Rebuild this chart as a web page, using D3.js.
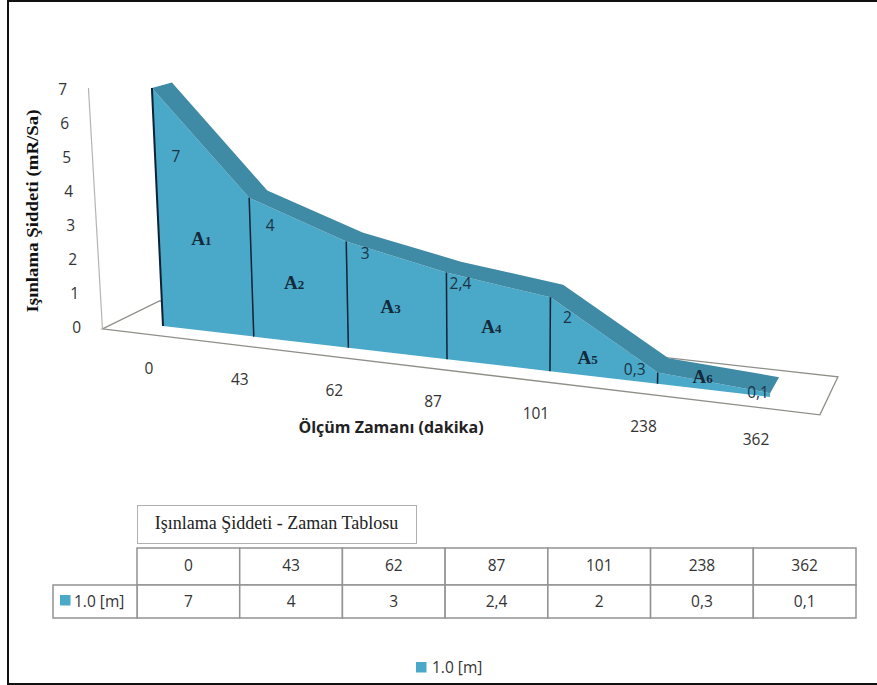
<!DOCTYPE html>
<html>
<head>
<meta charset="utf-8">
<script src="https://cdn.jsdelivr.net/npm/d3@7"></script>
<style>
  html, body { margin: 0; padding: 0; background: #fff; }
  svg { display: block; }
</style>
</head>
<body>
<div id="chart"></div>
<script>
let categories = ["0", "43", "62", "87", "101", "238", "362"]
let values = [7, 4, 3, 2.4, 2, 0.3, 0.1]
let valueLabels = ["7", "4", "3", "2,4", "2", "0,3", "0,1"]
let yTicks = [0, 1, 2, 3, 4, 5, 6, 7]
let areaNames = ["1", "2", "3", "4", "5", "6"]
let seriesName = "1.0 [m]"

// hand nudges for the data labels, relative to the front top of each point
let labelDx = [24, 21, 19, 14, 17, -23, -12]
let labelDy = [68, 28, 12, 11, 20, -3, -1]

let width = 877, height = 685
let frontColor = "#4aa8c8", ribbonColor = "#3f8ba6", textColor = "#333"
let sansFont = "'Open Sans', sans-serif", serifFont = "'Liberation Serif', serif"
let labelSize = 15.5

let svg = d3.select("#chart").append("svg")
    .attr("width", width)
    .attr("height", height)

// Outer border, the right side runs off the picture
svg.append("rect")
    .attr("x", 8).attr("y", 1)
    .attr("width", 880).attr("height", 683)
    .attr("fill", "#fff")
    .attr("stroke", "#111")
    .attr("stroke-width", 2)

// Perspective helpers: category position runs along a receding baseline
let persp = function (i) { return 1 / (1 - 0.0201 * i) }
let baseX = function (i) { return 163 + 88.96 * i * persp(i) }
let baseY = d3.scaleLinear().domain([163, 770]).range([326, 397])
let unit = function (i) { return 34 * persp(i) }
let lean = function (x) { return (x - 500) * 0.0047 }
let depthX = d3.scaleLinear().domain([0, 6]).range([20, 9])
let depthY = d3.scaleLinear().domain([0, 6]).range([-5.5, -16])

function pt(i, v) {
    let x = baseX(i), y = baseY(x)
    return [x + lean(x) * v, y - unit(i) * v]
}

let points = values.map(function (v, i) {
    let p = pt(i, v), b = pt(i, 0)
    return {i: i, v: v, x: p[0], y: p[1], bx: b[0], by: b[1],
        backX: p[0] + depthX(i), backY: p[1] + depthY(i)}
})

// Floor of the 3D box
let floorLeft = -0.69, floorRight = 6.43
function floorFront(i) { let x = baseX(i); return [x, baseY(x) + (i < 3 ? 10 : 12)] }
let fl = floorFront(floorLeft), fr = floorFront(floorRight)
let floorPath = [fl, fr, [fr[0] + 18, fr[1] - 38], [fl[0] + 57, fl[1] - 28]]
svg.append("path")
    .attr("d", d3.line()(floorPath) + "Z")
    .attr("fill", "none")
    .attr("stroke", "#8f8f88")
    .attr("stroke-width", 1.3)

// Y axis wall line and labels
let yAxisLine = d3.scaleLinear().domain([0, 7]).range([329, 88])
svg.append("line")
    .attr("x1", fl[0]).attr("y1", yAxisLine(0))
    .attr("x2", fl[0] - 14).attr("y2", yAxisLine(7))
    .attr("stroke", "#b5b5b0")
    .attr("stroke-width", 1.2)

let yS = d3.scaleLinear().domain([0, 7]).range([328, 90])
let yAxis = svg.append("g")
    .attr("transform", "translate(84,0)")
    .call(d3.axisLeft(yS).tickValues(yTicks).tickSize(0).tickFormat(d3.format("d")))
yAxis.select(".domain").remove()
yAxis.selectAll(".tick")
    .attr("transform", function (d) { return "translate(" + (-2 * d) + "," + yS(d) + ")" })
yAxis.selectAll("text")
    .attr("font-family", sansFont)
    .attr("font-size", labelSize)
    .attr("fill", textColor)

// Front face
let frontArea = d3.area()
    .x0(function (d) { return d.bx })
    .y0(function (d) { return d.by })
    .x1(function (d) { return d.x })
    .y1(function (d) { return d.y })
svg.append("path")
    .datum(points)
    .attr("d", frontArea)
    .attr("fill", frontColor)

// Top ribbon
let ribbon = d3.area()
    .x0(function (d) { return d.x })
    .y0(function (d) { return d.y })
    .x1(function (d) { return d.backX })
    .y1(function (d) { return d.backY })
svg.append("path")
    .datum(points)
    .attr("d", ribbon)
    .attr("fill", ribbonColor)

// Segment dividers
svg.selectAll(".divider")
    .data(points.slice(0, 6))
    .enter()
    .append("line")
    .attr("class", "divider")
    .attr("x1", function (d) { return d.bx })
    .attr("y1", function (d) { return d.by })
    .attr("x2", function (d) { return d.x })
    .attr("y2", function (d) { return d.y })
    .attr("stroke", "#0f2236")
    .attr("stroke-width", function (d, i) { return i == 0 ? 2 : 1.5 })

// Value labels on the points
svg.selectAll(".value")
    .data(points)
    .enter()
    .append("text")
    .attr("class", "value")
    .attr("x", function (d, i) { return d.x + labelDx[i] })
    .attr("y", function (d, i) { return d.y + labelDy[i] + 5.5 })
    .attr("text-anchor", "middle")
    .attr("font-family", sansFont)
    .attr("font-size", labelSize)
    .attr("fill", "#1d3344")
    .text(function (d, i) { return valueLabels[i] })

// Area names A1..A6 in the middle of each segment
let areaLabels = svg.selectAll(".area-name")
    .data(areaNames)
    .enter()
    .append("text")
    .attr("class", "area-name")
    .attr("x", function (d, i) {
        let shift = i == 4 ? -16 : (i == 5 ? -11 : -7)
        return (points[i].bx + points[i + 1].bx) / 2 + shift
    })
    .attr("y", function (d, i) {
        let mid = (points[i].y + points[i + 1].y + points[i].by + points[i + 1].by) / 4
        return mid + (i == 5 ? -4 : 8)
    })
    .attr("text-anchor", "middle")
    .attr("font-family", serifFont)
    .attr("font-weight", "bold")
    .attr("fill", "#14293a")
areaLabels.append("tspan").attr("font-size", 19).text("A")
areaLabels.append("tspan").attr("font-size", 13).text(function (d) { return d })

// X axis labels follow the baseline
svg.selectAll(".xlabel")
    .data(points)
    .enter()
    .append("text")
    .attr("class", "xlabel")
    .attr("x", function (d) { return d.bx - 14 })
    .attr("y", function (d) { return d.by + 48 })
    .attr("text-anchor", "middle")
    .attr("font-family", sansFont)
    .attr("font-size", labelSize)
    .attr("fill", textColor)
    .text(function (d, i) { return categories[i] })

// Axis titles
svg.append("text")
    .attr("x", 391).attr("y", 433)
    .attr("text-anchor", "middle")
    .attr("font-family", sansFont)
    .attr("font-weight", "bold")
    .attr("font-size", 16)
    .attr("fill", "#222")
    .text("Ölçüm Zamanı (dakika)")

svg.append("text")
    .attr("transform", "translate(38,211) rotate(-90)")
    .attr("text-anchor", "middle")
    .attr("font-family", serifFont)
    .attr("font-weight", "bold")
    .attr("font-size", 16)
    .attr("textLength", 203)
    .attr("lengthAdjust", "spacingAndGlyphs")
    .attr("fill", "#111")
    .text("Işınlama Şiddeti (mR/Sa)")

// Table title box
svg.append("rect")
    .attr("x", 137.5).attr("y", 505.5)
    .attr("width", 279).attr("height", 38)
    .attr("fill", "#fff")
    .attr("stroke", "#b0b0b0")
svg.append("text")
    .attr("x", 276.5).attr("y", 529)
    .attr("text-anchor", "middle")
    .attr("font-family", serifFont)
    .attr("font-size", 18)
    .attr("fill", "#222")
    .text("Işınlama Şiddeti - Zaman Tablosu")

// Data table
let colS = d3.scaleBand().domain(categories).range([137, 856])
let rowTop = 548, rowMid = 585, rowBottom = 618
let tableColor = "#929292"
let table = svg.append("g")
    .attr("stroke", tableColor)
    .attr("stroke-width", 1.5)
    .attr("fill", "#fff")
table.selectAll(".head")
    .data(categories)
    .enter()
    .append("rect")
    .attr("x", function (d) { return colS(d) })
    .attr("y", rowTop)
    .attr("width", colS.bandwidth())
    .attr("height", rowMid - rowTop)
table.selectAll(".cell")
    .data(categories)
    .enter()
    .append("rect")
    .attr("x", function (d) { return colS(d) })
    .attr("y", rowMid)
    .attr("width", colS.bandwidth())
    .attr("height", rowBottom - rowMid)
table.append("rect")
    .attr("x", 53).attr("y", rowMid)
    .attr("width", 137 - 53).attr("height", rowBottom - rowMid)

svg.selectAll(".head-text")
    .data(categories)
    .enter()
    .append("text")
    .attr("x", function (d) { return colS(d) + colS.bandwidth() / 2 })
    .attr("y", 571)
    .attr("text-anchor", "middle")
    .attr("font-family", sansFont)
    .attr("font-size", labelSize)
    .attr("fill", textColor)
    .text(function (d) { return d })
svg.selectAll(".cell-text")
    .data(valueLabels)
    .enter()
    .append("text")
    .attr("x", function (d, i) { return colS(categories[i]) + colS.bandwidth() / 2 })
    .attr("y", 607)
    .attr("text-anchor", "middle")
    .attr("font-family", sansFont)
    .attr("font-size", labelSize)
    .attr("fill", textColor)
    .text(function (d) { return d })

// Series key in table and legend
let keys = [{x: 60, y: 595, tx: 74, ty: 607}, {x: 416, y: 662, tx: 432, ty: 673}]
svg.selectAll(".swatch")
    .data(keys)
    .enter()
    .append("rect")
    .attr("x", function (d) { return d.x })
    .attr("y", function (d) { return d.y })
    .attr("width", 10.5)
    .attr("height", 10.5)
    .attr("fill", frontColor)
svg.selectAll(".key-text")
    .data(keys)
    .enter()
    .append("text")
    .attr("x", function (d) { return d.tx })
    .attr("y", function (d) { return d.ty })
    .attr("font-family", sansFont)
    .attr("font-size", labelSize)
    .attr("fill", textColor)
    .text(seriesName)
</script>
</body>
</html>
